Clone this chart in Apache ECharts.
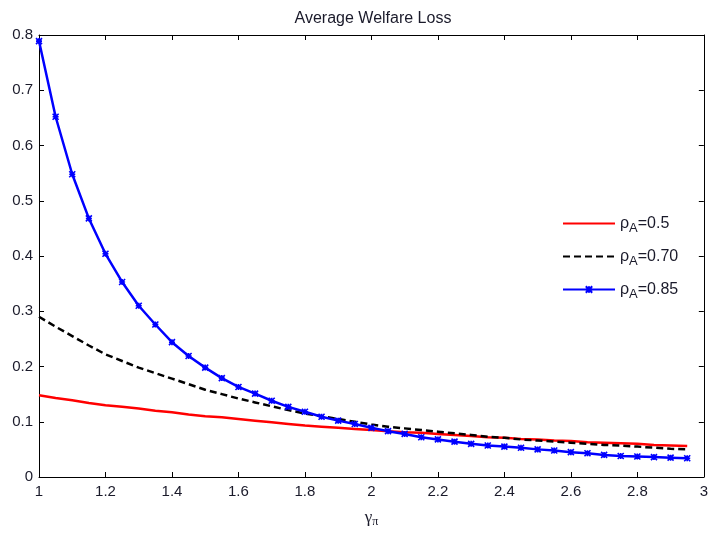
<!DOCTYPE html>
<html>
<head>
<meta charset="utf-8">
<script src="https://cdn.jsdelivr.net/npm/echarts@6/dist/echarts.min.js"></script>
<style>
html,body{margin:0;padding:0;background:#fff;}
#c{width:711px;height:533px;}
</style>
</head>
<body>
<div id="c"></div>
<script>
// x grid (gamma_pi)
var xs = [1.00,1.05,1.10,1.15,1.20,1.25,1.30,1.35,1.40,1.45,1.50,1.55,1.60,1.65,1.70,1.75,1.80,1.85,1.90,1.95,
          2.00,2.05,2.10,2.15,2.20,2.25,2.30,2.35,2.40,2.45,2.50,2.55,2.60,2.65,2.70,2.75,2.80,2.85,2.90,2.95];
// rho_A = 0.5
var red = [0.148,0.143,0.139,0.134,0.130,0.127,0.124,0.120,0.117,0.113,0.110,0.108,0.105,0.102,0.099,0.096,0.093,0.091,0.089,0.087,
           0.085,0.083,0.081,0.080,0.078,0.076,0.074,0.072,0.071,0.069,0.068,0.066,0.065,0.063,0.062,0.061,0.060,0.058,0.057,0.056];
// rho_A = 0.70
var black = [0.290,0.272,0.255,0.238,0.222,0.210,0.198,0.188,0.178,0.168,0.158,0.150,0.142,0.135,0.128,0.121,0.115,0.110,0.105,0.100,
             0.095,0.091,0.088,0.085,0.082,0.079,0.076,0.073,0.071,0.068,0.066,0.064,0.062,0.060,0.058,0.057,0.055,0.053,0.051,0.050];
// rho_A = 0.85
var blue = [0.789,0.652,0.548,0.468,0.404,0.353,0.310,0.276,0.244,0.219,0.198,0.179,0.163,0.151,0.138,0.127,0.118,0.109,0.102,0.096,
            0.089,0.083,0.078,0.072,0.068,0.064,0.060,0.057,0.055,0.053,0.050,0.048,0.045,0.043,0.040,0.038,0.037,0.036,0.035,0.034];
var seriesNames = ['0.5','0.70','0.85'];
var titleText = 'Average Welfare Loss';

function pairs(v){ return xs.map(function(x,i){ return [x, v[i]]; }); }

var chart = echarts.init(document.getElementById('c'));
var axisCol = '#000';
var FONT = 'Liberation Sans, Arial, sans-serif';
var labelFont = {color:'#1a1a2a', fontSize:15, fontFamily:FONT};
var xMark = 'path://M0,0L10,10M10,0L0,10M5,0L5,10M0,5L10,5';

chart.setOption({
  animation:false,
  backgroundColor:'#fff',
  title:{text:titleText, left:368, top:6, textAlign:'center',
    textStyle:{fontSize:16, fontWeight:'normal', color:'#1a1a2a', fontFamily:FONT}},
  grid:{left:39, right:6, top:35, bottom:52, containLabel:false},
  legend:{
    orient:'vertical', left:562, top:212, padding:0, itemWidth:52, itemHeight:8, itemGap:10,
    textStyle:{fontSize:16, color:'#1a1a2a', fontFamily:FONT,
      rich:{m:{fontSize:16, lineHeight:14, color:'#1a1a2a', fontFamily:FONT},
            s:{fontSize:13, lineHeight:14, color:'#1a1a2a', fontFamily:FONT, padding:[10,0,0,0]}}},
    formatter:function(n){ return '{m|ρ}{s|A}{m|=' + n + '}'; },
    data:[
      {name:seriesNames[0], itemStyle:{opacity:0}},
      {name:seriesNames[1], itemStyle:{opacity:0}},
      {name:seriesNames[2]}
    ]
  },
  xAxis:[{
    type:'value', min:1, max:3, interval:0.2, position:'bottom',
    name:'{g|γ}{p|π}', nameLocation:'middle', nameGap:30,
    nameTextStyle:{rich:{g:{fontSize:17, fontFamily:'Liberation Serif, Times New Roman, serif', color:'#1a1a2a'},
                         p:{fontSize:12, fontFamily:'Liberation Serif, Times New Roman, serif', color:'#1a1a2a', padding:[9,0,0,0]}}},
    axisLine:{show:true, onZero:false, lineStyle:{color:axisCol, width:1}},
    axisTick:{show:true, inside:true, length:5, lineStyle:{color:axisCol}},
    axisLabel:Object.assign({margin:7}, labelFont),
    splitLine:{show:false}
  },{
    type:'value', min:1, max:3, interval:0.2, position:'top',
    axisLine:{show:true, onZero:false, lineStyle:{color:axisCol, width:1}},
    axisTick:{show:true, inside:true, length:5, lineStyle:{color:axisCol}},
    axisLabel:{show:false}, splitLine:{show:false}
  }],
  yAxis:[{
    type:'value', min:0, max:0.8, interval:0.1, position:'left',
    axisLine:{show:true, onZero:false, lineStyle:{color:axisCol, width:1}},
    axisTick:{show:true, inside:true, length:5, lineStyle:{color:axisCol}},
    axisLabel:Object.assign({margin:6}, labelFont),
    splitLine:{show:false}
  },{
    type:'value', min:0, max:0.8, interval:0.1, position:'right',
    axisLine:{show:true, onZero:false, lineStyle:{color:axisCol, width:1}},
    axisTick:{show:true, inside:true, length:5, lineStyle:{color:axisCol}},
    axisLabel:{show:false}, splitLine:{show:false}
  }],
  series:[
    {name:seriesNames[0], type:'line', data:pairs(red), symbol:'none',
     lineStyle:{color:'#ff0000', width:2.5}, itemStyle:{color:'#ff0000'}},
    {name:seriesNames[1], type:'line', data:pairs(black), symbol:'none',
     lineStyle:{color:'#000000', width:2.5, type:[7,4]}, itemStyle:{color:'#000000'}},
    {name:seriesNames[2], type:'line', data:pairs(blue), symbol:xMark, symbolSize:6, showSymbol:true,
     lineStyle:{color:'#0000ff', width:2.5},
     itemStyle:{color:'#0000ff', borderColor:'#0000ff', borderWidth:1.6}}
  ]
});
</script>
</body>
</html>
